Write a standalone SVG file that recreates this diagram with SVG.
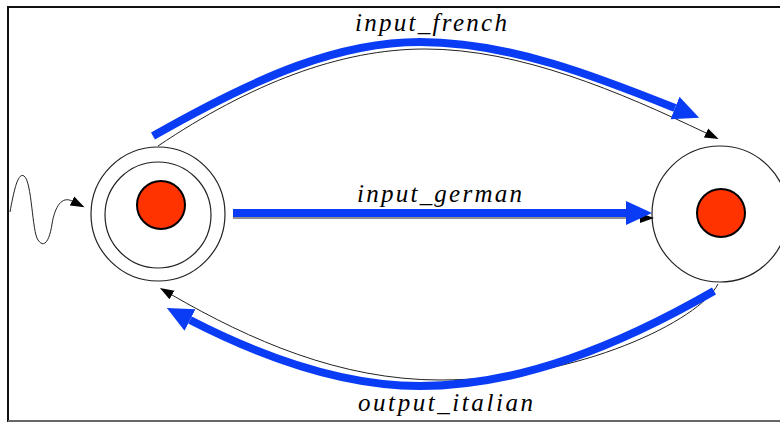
<svg xmlns="http://www.w3.org/2000/svg" width="780" height="422" viewBox="0 0 780 422">
<defs>
<style>
.frame{fill:none;stroke:#111;stroke-width:2}
.ring{fill:none;stroke:#222;stroke-width:1.2}
.dot{fill:#ff3300;stroke:#000;stroke-width:2}
.thin{fill:none;stroke:#222;stroke-width:1}
.blue{fill:none;stroke:#0a3cf5;stroke-width:8}
.lbl{font-family:"Liberation Serif","Times New Roman",serif;font-style:italic;font-size:25px;fill:#000}
</style>
<marker id="bh" markerUnits="userSpaceOnUse" markerWidth="30" markerHeight="26" viewBox="0 -13 30 26" refX="0" refY="0" orient="auto">
<path d="M0,-12 L26,0 L0,12 z" fill="#0a3cf5"/>
</marker>
<marker id="kh" markerUnits="userSpaceOnUse" markerWidth="16" markerHeight="12" viewBox="0 -6 16 12" refX="0" refY="0" orient="auto">
<path d="M0,-5 L14,0 L0,5 z" fill="#000"/>
</marker>
</defs>
<rect width="780" height="422" fill="#fff"/>
<path class="frame" d="M780,7 H8 V422"/>
<path d="M8,421 H780" stroke="#666" stroke-width="2"/>

<g id="node-start">
<circle class="ring" cx="158" cy="214" r="67"/>
<circle class="ring" cx="158" cy="215" r="53"/>
<circle class="dot" cx="161" cy="205" r="24"/>
</g>
<g id="node-end">
<circle class="ring" cx="720" cy="214" r="68"/>
<circle class="dot" cx="721" cy="213" r="24"/>
</g>

<g id="connectors">
<path class="thin" d="M10,212 C14,190 18,172 24,176 C32,181 32,232 38,240 C45,250 50,238 52,224 C55,206 62,196 72,201" marker-end="url(#kh)"/>
<path class="thin" d="M158,146 C250,84 340,49 425,49 C520,49 620,92 706,133" marker-end="url(#kh)"/>
<path class="thin" d="M233,218 L640,218" marker-end="url(#kh)"/>
<path class="thin" d="M718,284 C700,320 580,380 440,380 C340,380 250,340 172,295" marker-end="url(#kh)"/>
<path class="blue" d="M153,136 C260,75 340,42 420,42 C510,42 600,78 675,108" marker-end="url(#bh)"/>
<path class="blue" stroke-width="7" d="M233,213 L626,213" marker-end="url(#bh)"/>
<path class="blue" d="M714,291 C620,345 520,386 420,386 C340,386 260,356 190,320" marker-end="url(#bh)"/>
</g>

<text class="lbl" x="355" y="31" textLength="152" lengthAdjust="spacing">input_french</text>
<text class="lbl" x="357" y="202" textLength="165" lengthAdjust="spacing">input_german</text>
<text class="lbl" x="358" y="411" textLength="175" lengthAdjust="spacing">output_italian</text>
</svg>
